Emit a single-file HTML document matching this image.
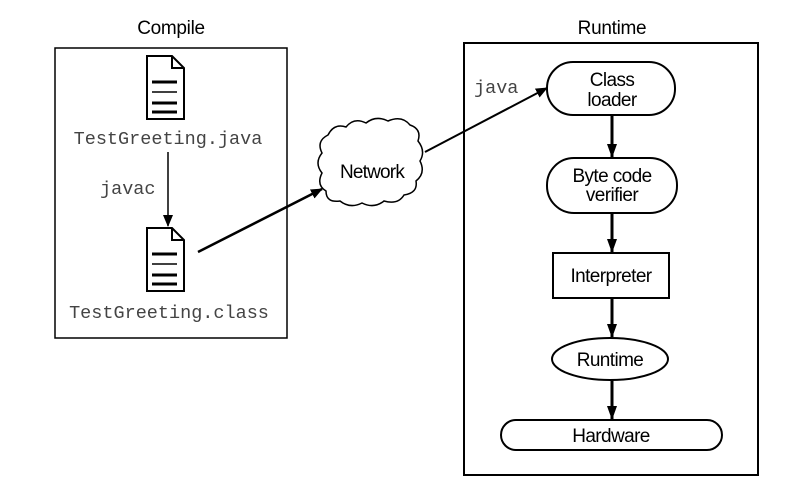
<!DOCTYPE html>
<html><head><meta charset="utf-8"><style>body{margin:0;background:#fff}svg{display:block}</style></head><body>
<svg width="800" height="492" viewBox="0 0 800 492" xmlns="http://www.w3.org/2000/svg">
<defs>
<marker id="ah" markerWidth="12" markerHeight="12" refX="11" refY="6" orient="auto" markerUnits="userSpaceOnUse"><path d="M0,1 L12,6 L0,11 z" fill="#000"/></marker>
<marker id="av" markerWidth="14" markerHeight="12" refX="13" refY="6" orient="auto" markerUnits="userSpaceOnUse"><path d="M0,1 L14,6 L0,11 z" fill="#000"/></marker>
<g id="doc">
<path d="M0,0 H25 L37,12 V63 H0 Z" fill="#fff" stroke="#000" stroke-width="2"/>
<path d="M25,0 V12 H37" fill="none" stroke="#000" stroke-width="2"/>
<line x1="5" y1="26" x2="30" y2="26" stroke="#000" stroke-width="3"/>
<line x1="5" y1="36" x2="30" y2="36" stroke="#000" stroke-width="1.5"/>
<line x1="5" y1="47" x2="30" y2="47" stroke="#000" stroke-width="3"/>
<line x1="5" y1="56" x2="30" y2="56" stroke="#000" stroke-width="3"/>
</g>
</defs>
<g font-family="Liberation Sans, sans-serif" font-size="19" text-anchor="middle" letter-spacing="-0.3">
<text x="171" y="34">Compile</text>
<text x="612" y="34">Runtime</text>
</g>
<rect x="55" y="48" width="232" height="290" fill="none" stroke="#000" stroke-width="1.5"/>
<rect x="464" y="43" width="294" height="432" fill="none" stroke="#000" stroke-width="2"/>
<use href="#doc" x="147" y="56"/>
<use href="#doc" x="147" y="228"/>
<g font-family="Liberation Mono, monospace" font-size="18.5" fill="#444">
<text x="168" y="144" text-anchor="middle">TestGreeting.java</text>
<text x="169" y="318" text-anchor="middle">TestGreeting.class</text>
<text x="100" y="194">javac</text>
<text x="474" y="93">java</text>
</g>
<line x1="168" y1="152" x2="168" y2="226" stroke="#000" stroke-width="1.5" marker-end="url(#ah)"/>
<line x1="198" y1="252" x2="322" y2="189" stroke="#000" stroke-width="2.5" marker-end="url(#ah)"/>
<line x1="425" y1="152" x2="547" y2="88" stroke="#000" stroke-width="2" marker-end="url(#ah)"/>
<path d="M328,135 q6,-12 18,-8 q8,-10 20,-4 q10,-8 22,-2 q14,-6 22,4 q12,4 8,16 q8,10 2,20 q6,12 -4,20 q2,12 -12,14 q-6,10 -20,6 q-10,8 -22,2 q-12,6 -22,-2 q-14,2 -14,-10 q-10,-6 -4,-18 q-8,-10 0,-20 q-6,-12 6,-18 z" fill="#fff" stroke="#000" stroke-width="1.5"/>
<text x="372" y="178" font-family="Liberation Sans, sans-serif" font-size="19" letter-spacing="-0.8" text-anchor="middle">Network</text>
<g stroke="#000" stroke-width="2" fill="#fff">
<rect x="547" y="62" width="128" height="53" rx="26"/>
<rect x="547" y="158" width="130" height="55" rx="27"/>
<rect x="553" y="253" width="116" height="45"/>
<ellipse cx="610" cy="359" rx="58" ry="21"/>
<rect x="501" y="420" width="221" height="30" rx="15"/>
</g>
<g stroke="#000" stroke-width="3" marker-end="url(#av)">
<line x1="612" y1="115" x2="612" y2="157"/>
<line x1="612" y1="213" x2="612" y2="252"/>
<line x1="612" y1="298" x2="612" y2="337"/>
<line x1="612" y1="380" x2="612" y2="419"/>
</g>
<g font-family="Liberation Sans, sans-serif" font-size="19" text-anchor="middle" letter-spacing="-0.6">
<text x="612" y="86">Class</text><text x="612" y="106">loader</text>
<text x="612" y="182">Byte code</text><text x="612" y="201">verifier</text>
<text x="611" y="282">Interpreter</text>
<text x="610" y="366">Runtime</text>
<text x="611" y="442">Hardware</text>
</g>
</svg>
</body></html>
